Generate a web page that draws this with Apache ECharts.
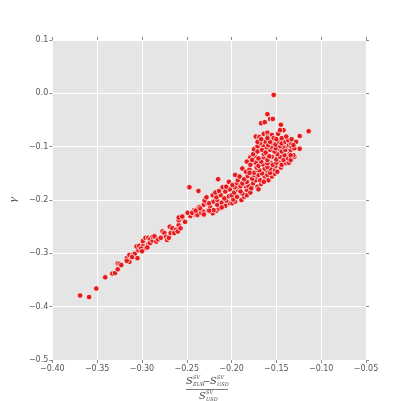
<!doctype html>
<html>
<head>
<meta charset="utf-8">
<title>gamma scatter</title>
<script src="https://cdn.jsdelivr.net/npm/echarts@6/dist/echarts.min.js"></script>
<style>
  html, body { margin: 0; padding: 0; background: #fff; }
  #chart { width: 407px; height: 401px; }
</style>
</head>
<body>
<div id="chart"></div>
<script>
// axis ticks
var xTicks = [-0.40, -0.35, -0.30, -0.25, -0.20, -0.15, -0.10, -0.05];
var yTicks = [-0.5, -0.4, -0.3, -0.2, -0.1, 0.0, 0.1];

// lower tail of the cloud
var tailPts = [
  [-0.369,-0.379],[-0.359,-0.382],[-0.351,-0.366],[-0.341,-0.345],[-0.333,-0.338],
  [-0.330,-0.337],[-0.327,-0.330],[-0.327,-0.319],[-0.325,-0.320],[-0.323,-0.322],
  [-0.317,-0.309],[-0.314,-0.316],[-0.317,-0.314],[-0.314,-0.303],[-0.310,-0.302],
  [-0.308,-0.301],[-0.311,-0.307],[-0.305,-0.309],[-0.304,-0.294],[-0.306,-0.287],
  [-0.303,-0.286],[-0.299,-0.286],[-0.299,-0.277],[-0.296,-0.271],[-0.293,-0.271],
  [-0.293,-0.283],[-0.297,-0.291],[-0.301,-0.291],[-0.300,-0.296],[-0.291,-0.274],
  [-0.291,-0.281],[-0.294,-0.289],[-0.288,-0.276],[-0.284,-0.278],[-0.288,-0.269],
  [-0.286,-0.268],[-0.282,-0.274],[-0.279,-0.271],[-0.277,-0.259],[-0.275,-0.262],
  [-0.273,-0.269],[-0.272,-0.275],[-0.270,-0.271],[-0.268,-0.262],[-0.269,-0.250],
  [-0.266,-0.253],[-0.262,-0.256],[-0.264,-0.262],[-0.260,-0.259],[-0.259,-0.247],
  [-0.257,-0.232],[-0.255,-0.234],[-0.259,-0.238],[-0.252,-0.241],[-0.257,-0.253],
  [-0.246,-0.228],[-0.242,-0.219],[-0.240,-0.228],[-0.238,-0.216],[-0.236,-0.213],
  [-0.234,-0.219],[-0.231,-0.209],[-0.231,-0.228],[-0.227,-0.206],[-0.225,-0.219]
];

// main band
var bandPts = [
  [-0.259,-0.233],[-0.255,-0.231],[-0.246,-0.230],[-0.249,-0.224],[-0.238,-0.228],
  [-0.234,-0.224],[-0.244,-0.224],[-0.240,-0.220],[-0.235,-0.216],[-0.231,-0.222],
  [-0.226,-0.219],[-0.221,-0.225],[-0.217,-0.220],[-0.224,-0.213],[-0.220,-0.219],
  [-0.214,-0.216],[-0.230,-0.201],[-0.225,-0.206],[-0.220,-0.203],[-0.216,-0.209],
  [-0.211,-0.205],[-0.207,-0.211],[-0.202,-0.206],[-0.216,-0.200],[-0.211,-0.214],
  [-0.206,-0.201],[-0.199,-0.206],[-0.196,-0.203],[-0.221,-0.191],[-0.217,-0.195],
  [-0.212,-0.191],[-0.208,-0.197],[-0.203,-0.193],[-0.198,-0.199],[-0.194,-0.194],
  [-0.189,-0.200],[-0.228,-0.195],[-0.218,-0.186],[-0.214,-0.183],[-0.200,-0.191],
  [-0.186,-0.194],[-0.183,-0.191],[-0.210,-0.176],[-0.207,-0.184],[-0.202,-0.180],
  [-0.197,-0.186],[-0.193,-0.181],[-0.188,-0.188],[-0.183,-0.181],[-0.179,-0.186],
  [-0.206,-0.175],[-0.196,-0.176],[-0.191,-0.178],[-0.184,-0.174],[-0.190,-0.184],
  [-0.203,-0.166],[-0.199,-0.172],[-0.194,-0.168],[-0.190,-0.174],[-0.186,-0.168],
  [-0.181,-0.174],[-0.176,-0.169],[-0.171,-0.175],[-0.167,-0.170],[-0.193,-0.163],
  [-0.188,-0.169],[-0.183,-0.166],[-0.178,-0.178],[-0.173,-0.163],[-0.170,-0.180],
  [-0.196,-0.153],[-0.191,-0.156],[-0.186,-0.161],[-0.182,-0.155],[-0.177,-0.160],
  [-0.172,-0.156],[-0.168,-0.163],[-0.163,-0.156],[-0.159,-0.163],[-0.155,-0.156],
  [-0.175,-0.153],[-0.170,-0.153],[-0.164,-0.166],[-0.160,-0.153],[-0.152,-0.151],
  [-0.188,-0.141],[-0.184,-0.147],[-0.180,-0.143],[-0.175,-0.149],[-0.171,-0.144],
  [-0.166,-0.150],[-0.161,-0.144],[-0.157,-0.149],[-0.152,-0.143],[-0.149,-0.147],
  [-0.180,-0.149],[-0.157,-0.141],[-0.169,-0.144],[-0.172,-0.139],[-0.163,-0.141],
  [-0.145,-0.139]
];

// upper fan of the cloud
var fanPts = [
  [-0.183,-0.128],[-0.179,-0.134],[-0.173,-0.130],[-0.170,-0.136],[-0.165,-0.133],
  [-0.160,-0.138],[-0.156,-0.131],[-0.151,-0.136],[-0.147,-0.130],[-0.144,-0.134],
  [-0.139,-0.131],[-0.167,-0.128],[-0.154,-0.134],[-0.136,-0.130],[-0.150,-0.130],
  [-0.160,-0.131],[-0.179,-0.120],[-0.174,-0.118],[-0.170,-0.122],[-0.164,-0.120],
  [-0.160,-0.125],[-0.155,-0.119],[-0.150,-0.124],[-0.146,-0.119],[-0.142,-0.125],
  [-0.137,-0.122],[-0.134,-0.125],[-0.130,-0.119],[-0.177,-0.125],[-0.158,-0.118],
  [-0.149,-0.114],[-0.141,-0.116],[-0.176,-0.114],[-0.164,-0.114],[-0.175,-0.105],
  [-0.171,-0.109],[-0.166,-0.106],[-0.162,-0.111],[-0.157,-0.106],[-0.152,-0.109],
  [-0.147,-0.104],[-0.144,-0.109],[-0.140,-0.106],[-0.135,-0.113],[-0.131,-0.116],
  [-0.124,-0.104],[-0.134,-0.106],[-0.138,-0.099],[-0.143,-0.100],[-0.146,-0.099],
  [-0.151,-0.103],[-0.156,-0.100],[-0.161,-0.101],[-0.165,-0.097],[-0.171,-0.099],
  [-0.168,-0.093],[-0.162,-0.091],[-0.159,-0.097],[-0.155,-0.093],[-0.151,-0.096],
  [-0.147,-0.091],[-0.144,-0.094],[-0.140,-0.091],[-0.136,-0.097],[-0.133,-0.100],
  [-0.130,-0.103],[-0.157,-0.091],[-0.134,-0.093],[-0.171,-0.091],[-0.173,-0.081],
  [-0.169,-0.082],[-0.164,-0.076],[-0.160,-0.074],[-0.160,-0.081],[-0.155,-0.078],
  [-0.153,-0.084],[-0.148,-0.076],[-0.142,-0.069],[-0.146,-0.069],[-0.137,-0.088],
  [-0.133,-0.086],[-0.128,-0.091],[-0.160,-0.084],[-0.150,-0.086],[-0.144,-0.084],
  [-0.139,-0.081],[-0.167,-0.086],[-0.124,-0.080],[-0.131,-0.097],[-0.134,-0.116]
];

// isolated points
var strayPts = [
  [-0.153,-0.003],[-0.160,-0.039],[-0.157,-0.048],[-0.154,-0.048],[-0.167,-0.056],
  [-0.163,-0.054],[-0.145,-0.059],[-0.114,-0.071],[-0.247,-0.176],[-0.237,-0.183],
  [-0.215,-0.161],[-0.231,-0.227],[-0.225,-0.220]
];

function minus(s) { return s.replace('-', '\u2212'); }

var allPts = tailPts.concat(bandPts, fanPts, strayPts);

var dom = document.getElementById('chart');
var myChart = echarts.init(dom, null, { renderer: 'canvas' });

var tickColor = '#8a8a8a';
var labelColor = '#555555';

var option = {
  animation: false,
  backgroundColor: '#ffffff',
  grid: {
    left: 51, top: 40, right: 41, bottom: 41,
    show: true, backgroundColor: '#E5E5E5', borderWidth: 0
  },
  xAxis: [
    {
      type: 'value', min: xTicks[0], max: xTicks[xTicks.length - 1], interval: 0.05,
      axisLine: { show: false, onZero: false },
      axisTick: { show: true, inside: false, length: 3, lineStyle: { color: tickColor } },
      axisLabel: {
        color: labelColor, fontSize: 8, fontFamily: 'DejaVu Sans', margin: 5,
        formatter: function (v) { return minus(v.toFixed(2)); }
      },
      splitLine: { show: true, lineStyle: { color: '#ffffff', width: 1 } }
    },
    {
      type: 'value', position: 'top', min: xTicks[0], max: xTicks[xTicks.length - 1], interval: 0.05,
      axisLine: { show: false, onZero: false },
      axisTick: { show: true, inside: false, length: 3, lineStyle: { color: tickColor } },
      axisLabel: { show: false },
      splitLine: { show: false }
    }
  ],
  yAxis: [
    {
      type: 'value', min: yTicks[0], max: yTicks[yTicks.length - 1], interval: 0.1,
      name: '\u03b3', nameLocation: 'middle', nameGap: 28, nameRotate: 90,
      nameTextStyle: { color: labelColor, fontSize: 10, fontFamily: 'DejaVu Serif', fontStyle: 'italic' },
      axisLine: { show: false, onZero: false },
      axisTick: { show: true, inside: false, length: 3, lineStyle: { color: tickColor } },
      axisLabel: {
        color: labelColor, fontSize: 8, fontFamily: 'DejaVu Sans', margin: 4,
        formatter: function (v) {
          if (Math.abs(v) < 1e-9) return '0.0';
          return minus(v.toFixed(1));
        }
      },
      splitLine: { show: true, lineStyle: { color: '#ffffff', width: 1 } }
    },
    {
      type: 'value', position: 'right', min: yTicks[0], max: yTicks[yTicks.length - 1], interval: 0.1,
      axisLine: { show: false, onZero: false },
      axisTick: { show: true, inside: false, length: 3, lineStyle: { color: tickColor } },
      axisLabel: { show: false },
      splitLine: { show: false }
    }
  ],
  series: [
    {
      type: 'scatter',
      xAxisIndex: 0, yAxisIndex: 0,
      symbol: 'circle',
      symbolSize: 5.5,
      data: allPts,
      itemStyle: { color: '#e41a1c', borderColor: '#ffffff', borderWidth: 0.7, opacity: 1 }
    }
  ],
  graphic: [
    // numerator  S^SV_EUR - S^SV_USD
    { type: 'text', left: 186, top: 376, style: { text: 'S', font: 'italic 10px "DejaVu Serif"', fill: '#444' } },
    { type: 'text', left: 193, top: 375, style: { text: 'SV', font: 'italic 5px "DejaVu Serif"', fill: '#444' } },
    { type: 'text', left: 193, top: 382, style: { text: 'EUR', font: 'italic 5px "DejaVu Serif"', fill: '#444' } },
    { type: 'text', left: 203, top: 377, style: { text: '\u2212', font: '9px "DejaVu Sans"', fill: '#444' } },
    { type: 'text', left: 210, top: 376, style: { text: 'S', font: 'italic 10px "DejaVu Serif"', fill: '#444' } },
    { type: 'text', left: 217, top: 375, style: { text: 'SV', font: 'italic 5px "DejaVu Serif"', fill: '#444' } },
    { type: 'text', left: 217, top: 382, style: { text: 'USD', font: 'italic 5px "DejaVu Serif"', fill: '#444' } },
    // fraction bar
    { type: 'line', shape: { x1: 186, y1: 389.5, x2: 228, y2: 389.5 }, style: { stroke: '#444', lineWidth: 0.7 } },
    // denominator S^SV_USD
    { type: 'text', left: 199, top: 391, style: { text: 'S', font: 'italic 10px "DejaVu Serif"', fill: '#444' } },
    { type: 'text', left: 206, top: 390, style: { text: 'SV', font: 'italic 5px "DejaVu Serif"', fill: '#444' } },
    { type: 'text', left: 206, top: 397, style: { text: 'USD', font: 'italic 5px "DejaVu Serif"', fill: '#444' } }
  ]
};

myChart.setOption(option);
</script>
</body>
</html>
